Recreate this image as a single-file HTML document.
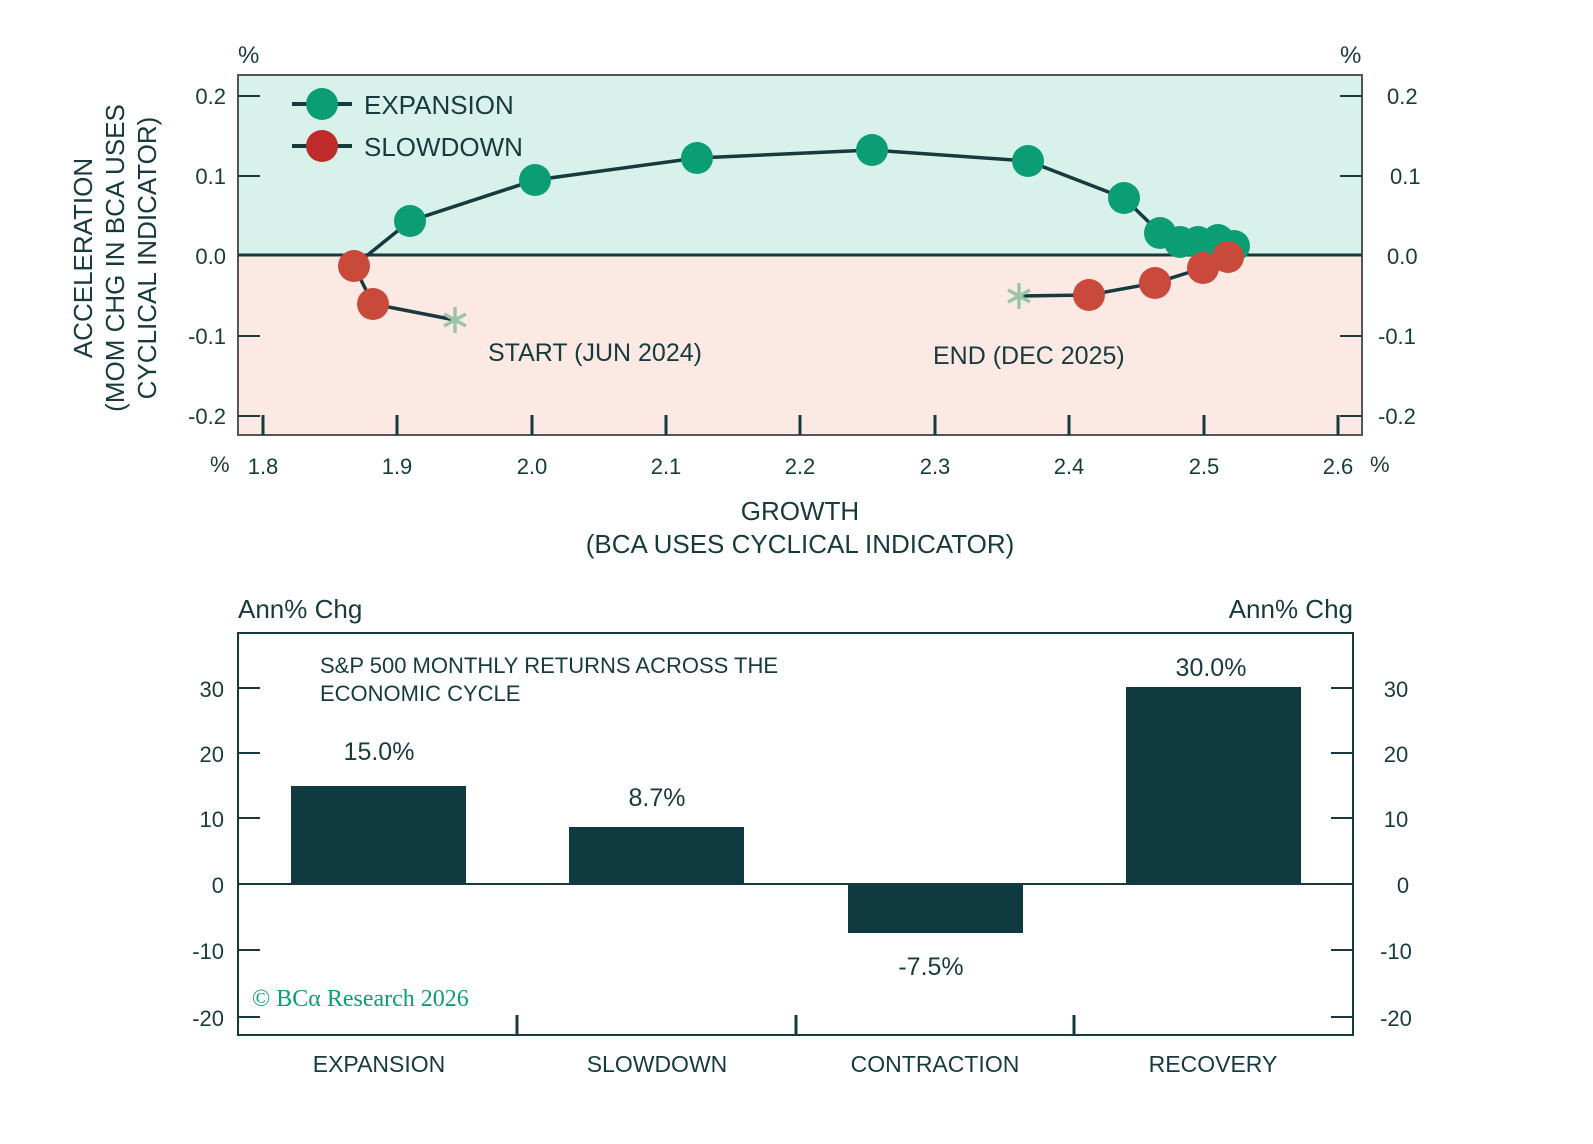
<!DOCTYPE html>
<html><head><meta charset="utf-8"><style>body{margin:0;background:#fff}svg{display:block}text{font-family:"Liberation Sans",sans-serif;fill:#173a3e}</style></head><body>
<svg width="1593" height="1144" viewBox="0 0 1593 1144">
<rect x="238" y="75" width="1124" height="180" fill="#d9f1eb"/>
<rect x="238" y="255" width="1124" height="180" fill="#fce9e4"/>
<rect x="238" y="75" width="1124" height="360" fill="none" stroke="#555" stroke-width="2"/>
<line x1="238" y1="255" x2="1362" y2="255" stroke="#173a3e" stroke-width="3"/>
<g stroke="#173a3e" stroke-width="2">
<line x1="238" y1="96" x2="260" y2="96"/><line x1="238" y1="176" x2="260" y2="176"/><line x1="238" y1="336" x2="260" y2="336"/><line x1="238" y1="416" x2="260" y2="416"/>
<line x1="1340" y1="96" x2="1362" y2="96"/><line x1="1340" y1="176" x2="1362" y2="176"/><line x1="1340" y1="336" x2="1362" y2="336"/><line x1="1340" y1="416" x2="1362" y2="416"/>
</g>
<g stroke="#173a3e" stroke-width="3">
<line x1="263" y1="415" x2="263" y2="435"/><line x1="397" y1="415" x2="397" y2="435"/><line x1="532" y1="415" x2="532" y2="435"/><line x1="666" y1="415" x2="666" y2="435"/><line x1="800" y1="415" x2="800" y2="435"/><line x1="935" y1="415" x2="935" y2="435"/><line x1="1069" y1="415" x2="1069" y2="435"/><line x1="1204" y1="415" x2="1204" y2="435"/><line x1="1338" y1="415" x2="1338" y2="435"/>
</g>
<g font-size="22" text-anchor="end">
<text x="226" y="104">0.2</text><text x="226" y="184">0.1</text><text x="226" y="264">0.0</text><text x="226" y="344">-0.1</text><text x="226" y="424">-0.2</text>
</g>
<g font-size="22" text-anchor="start">
<text x="1387" y="104">0.2</text><text x="1390" y="184">0.1</text><text x="1387" y="264">0.0</text><text x="1378" y="344">-0.1</text><text x="1378" y="424">-0.2</text>
</g>
<text x="238" y="63" font-size="24">%</text><text x="1340" y="63" font-size="24">%</text>
<g font-size="22" text-anchor="middle">
<text x="263" y="474">1.8</text><text x="397" y="474">1.9</text><text x="532" y="474">2.0</text><text x="666" y="474">2.1</text><text x="800" y="474">2.2</text><text x="935" y="474">2.3</text><text x="1069" y="474">2.4</text><text x="1204" y="474">2.5</text><text x="1338" y="474">2.6</text>
</g>
<text x="210" y="472" font-size="22">%</text><text x="1370" y="472" font-size="22">%</text>
<text x="800" y="520" font-size="26" text-anchor="middle">GROWTH</text>
<text x="800" y="553" font-size="26" text-anchor="middle">(BCA USES CYCLICAL INDICATOR)</text>
<g font-size="26" text-anchor="middle">
<text transform="translate(92,258) rotate(-90)">ACCELERATION</text>
<text transform="translate(124,258) rotate(-90)">(MOM CHG IN BCA USES</text>
<text transform="translate(156,258) rotate(-90)">CYCLICAL INDICATOR)</text>
</g>
<!-- legend -->
<line x1="292" y1="104" x2="352" y2="104" stroke="#173a3e" stroke-width="4"/><circle cx="322" cy="104" r="16" fill="#0b9e75"/>
<line x1="292" y1="146" x2="352" y2="146" stroke="#173a3e" stroke-width="4"/><circle cx="322" cy="146" r="16" fill="#bf2a2a"/>
<text x="364" y="114" font-size="26">EXPANSION</text><text x="364" y="156" font-size="26">SLOWDOWN</text>
<text x="488" y="361" font-size="25" fill="#444">START (JUN 2024)</text>
<text x="933" y="364" font-size="25" fill="#444">END (DEC 2025)</text>
<polyline fill="none" stroke="#173a3e" stroke-width="3.5" points="455,320 373,304 354,266 410,221 535,180 697,158 872,150 1028,161 1124,198 1160,233 1180,242 1198,242 1218,240 1234,246 1228,257 1203,268 1155,283 1089,295 1019,296"/>
<g fill="#0b9e75">
<circle cx="410" cy="221" r="16"/><circle cx="535" cy="180" r="16"/><circle cx="697" cy="158" r="16"/><circle cx="872" cy="150" r="16"/><circle cx="1028" cy="161" r="16"/><circle cx="1124" cy="198" r="16"/><circle cx="1160" cy="233" r="16"/><circle cx="1180" cy="242" r="16"/><circle cx="1198" cy="242" r="16"/><circle cx="1218" cy="240" r="16"/><circle cx="1234" cy="246" r="16"/>
</g>
<g fill="#c94a3a">
<circle cx="354" cy="266" r="16"/><circle cx="373" cy="304" r="16"/><circle cx="1228" cy="257" r="16"/><circle cx="1203" cy="268" r="16"/><circle cx="1155" cy="283" r="16"/><circle cx="1089" cy="295" r="16"/>
</g>
<g stroke="#9cc4a8" stroke-width="3.5">
<path d="M455 307v26M444 314l22 12M444 326l22-12"/>
<path d="M1019 283v26M1008 290l22 12M1008 302l22-12"/>
</g>
<!-- bottom chart -->
<rect x="238" y="633" width="1115" height="402" fill="none" stroke="#173a3e" stroke-width="2"/>
<line x1="238" y1="884" x2="1353" y2="884" stroke="#173a3e" stroke-width="2"/>
<g stroke="#173a3e" stroke-width="2">
<line x1="238" y1="688" x2="260" y2="688"/><line x1="238" y1="753" x2="260" y2="753"/><line x1="238" y1="818" x2="260" y2="818"/><line x1="238" y1="950" x2="260" y2="950"/><line x1="238" y1="1017" x2="260" y2="1017"/>
<line x1="1331" y1="688" x2="1353" y2="688"/><line x1="1331" y1="753" x2="1353" y2="753"/><line x1="1331" y1="818" x2="1353" y2="818"/><line x1="1331" y1="950" x2="1353" y2="950"/><line x1="1331" y1="1017" x2="1353" y2="1017"/>
</g>
<g stroke="#173a3e" stroke-width="3"><line x1="517" y1="1015" x2="517" y2="1035"/><line x1="796" y1="1015" x2="796" y2="1035"/><line x1="1074" y1="1015" x2="1074" y2="1035"/></g>
<g fill="#0f3a40">
<rect x="291" y="786" width="175" height="98"/><rect x="569" y="827" width="175" height="57"/><rect x="848" y="884" width="175" height="49"/><rect x="1126" y="687" width="175" height="197"/>
</g>
<text x="238" y="618" font-size="26">Ann% Chg</text><text x="1353" y="618" font-size="26" text-anchor="end">Ann% Chg</text>
<g font-size="22" text-anchor="end">
<text x="224" y="697">30</text><text x="224" y="762">20</text><text x="224" y="827">10</text><text x="224" y="893">0</text><text x="224" y="959">-10</text><text x="224" y="1026">-20</text>
</g>
<g font-size="22" text-anchor="middle">
<text x="1396" y="697">30</text><text x="1396" y="762">20</text><text x="1396" y="827">10</text><text x="1403" y="893">0</text><text x="1396" y="959">-10</text><text x="1396" y="1026">-20</text>
</g>
<text x="320" y="673" font-size="22">S&amp;P 500 MONTHLY RETURNS ACROSS THE</text>
<text x="320" y="701" font-size="22">ECONOMIC CYCLE</text>
<g font-size="25" text-anchor="middle">
<text x="379" y="760">15.0%</text><text x="657" y="806">8.7%</text><text x="931" y="975">-7.5%</text><text x="1211" y="676">30.0%</text>
</g>
<text x="252" y="1006" font-size="24" fill="#0b9e75" style="fill:#0b9e75;font-family:'Liberation Serif',serif">© BCα Research 2026</text>
<g font-size="23" text-anchor="middle">
<text x="379" y="1072">EXPANSION</text><text x="657" y="1072">SLOWDOWN</text><text x="935" y="1072">CONTRACTION</text><text x="1213" y="1072">RECOVERY</text>
</g>
</svg>
</body></html>
